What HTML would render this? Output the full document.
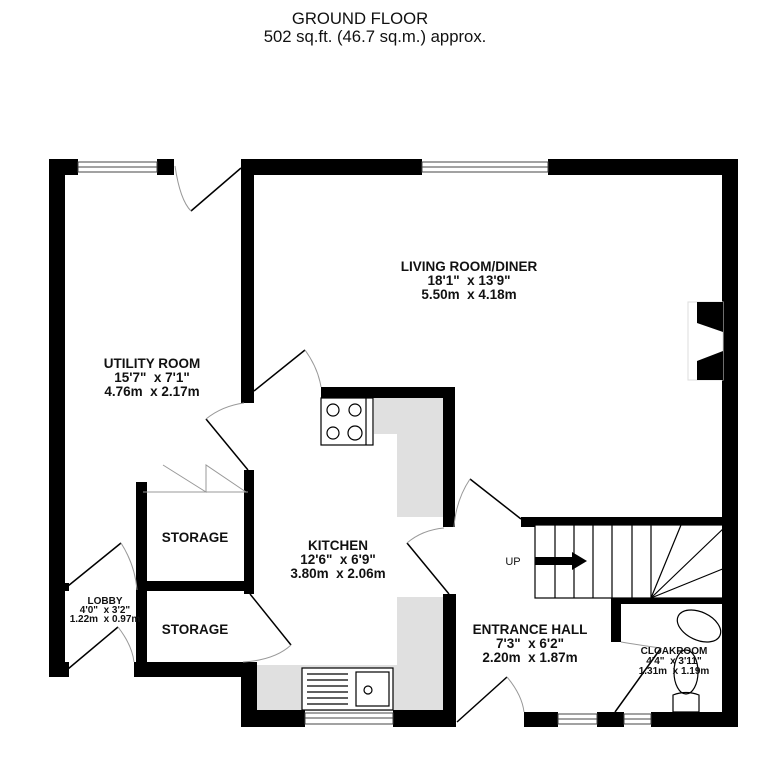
<!DOCTYPE html>
<html><head><style>body{margin:0;background:#fff}svg{display:block}text{font-family:"Liberation Sans",sans-serif;fill:#111;white-space:pre}</style></head><body>
<svg width="784" height="769" viewBox="0 0 784 769" xml:space="preserve">
<text x="360" y="24" font-size="16.7" text-anchor="middle">GROUND FLOOR</text>
<text x="375" y="42" font-size="16.7" text-anchor="middle">502 sq.ft. (46.7 sq.m.) approx.</text>
<g fill="#e0e0e0">
<polygon points="374,398 443,398 443,517 397,517 397,434 374,434"/>
<rect x="397" y="597" width="46" height="70"/>
<rect x="257" y="665" width="186" height="46"/>
</g>
<g fill="#000">
<rect x="49" y="159" width="29" height="16"/><rect x="157" y="159" width="17" height="16"/>
<rect x="49" y="159" width="16" height="518"/>
<rect x="241" y="159" width="181" height="16"/><rect x="548" y="159" width="190" height="16"/>
<rect x="241" y="159" width="13" height="244"/>
<rect x="722" y="159" width="16" height="568"/>
<rect x="321" y="387" width="134" height="11"/>
<rect x="443" y="387" width="12" height="140"/>
<rect x="443" y="594" width="13" height="133"/>
<rect x="241" y="710" width="64" height="17"/><rect x="393" y="710" width="63" height="17"/>
<rect x="241" y="662" width="16" height="65"/>
<rect x="134" y="662" width="123" height="15"/>
<rect x="136" y="482" width="11" height="190"/>
<rect x="147" y="581" width="105" height="10"/>
<rect x="244" y="470" width="10" height="124"/>
<rect x="65" y="583" width="4" height="8"/><rect x="65" y="662" width="4" height="15"/>
<rect x="521" y="517" width="217" height="8"/>
<rect x="521" y="517" width="14" height="10"/>
<rect x="612" y="598" width="113" height="6"/>
<rect x="611" y="598" width="10" height="44"/>
<rect x="524" y="712" width="34" height="15"/><rect x="597" y="712" width="27" height="15"/><rect x="651" y="712" width="87" height="15"/>
</g>
<g fill="none" stroke="#444" stroke-width="1">
<rect x="78" y="162" width="79" height="10"/><line x1="78" y1="167" x2="157" y2="167"/>
<rect x="422" y="162" width="126" height="10"/><line x1="422" y1="167" x2="548" y2="167"/>
<rect x="305" y="713" width="88" height="11"/><line x1="305" y1="718" x2="393" y2="718"/>
<rect x="558" y="714" width="39" height="10"/><line x1="558" y1="719" x2="597" y2="719"/>
<rect x="624" y="714" width="27" height="10"/><line x1="624" y1="719" x2="651" y2="719"/>
</g>
<g fill="none" stroke="#000" stroke-width="1.5">
<line x1="241" y1="168" x2="191" y2="211"/>
<line x1="254" y1="391" x2="305" y2="350"/>
<line x1="206" y1="419" x2="248" y2="470"/>
<line x1="68" y1="586" x2="121" y2="543"/>
<line x1="68" y1="669" x2="118" y2="627"/>
<line x1="250" y1="594" x2="291" y2="645"/>
<line x1="407" y1="543" x2="449" y2="594"/>
<line x1="521" y1="519" x2="470" y2="479"/>
<line x1="457" y1="722" x2="507" y2="677"/>
<line x1="615" y1="712" x2="661" y2="648"/>
</g>
<g fill="none" stroke="#999" stroke-width="1">
<path d="M175,166 Q180,200 191,211"/>
<path d="M305,350 Q318,368 321,387"/>
<path d="M206,419 Q222,406 244,403"/>
<path d="M121,543 Q135,565 137,590"/>
<path d="M118,627 Q132,645 134,662"/>
<path d="M291,645 Q275,660 243,662"/>
<path d="M407,543 Q422,530 444,528"/>
<path d="M470,479 Q456,500 454,527"/>
<path d="M507,677 Q522,695 524,712"/>
<path d="M621,642 Q645,646 661,648"/>
<polyline points="163,465 206,492 206,465 246,492"/>
<line x1="143" y1="492" x2="248" y2="492"/>
</g>
<g fill="#fff" stroke="#000" stroke-width="1.2">
<rect x="321" y="398" width="52" height="47"/>
<circle cx="333" cy="410" r="6"/><circle cx="355" cy="410" r="6"/><circle cx="333" cy="433" r="6"/><circle cx="355" cy="433" r="7"/>
<line x1="366" y1="398" x2="366" y2="445"/>
<rect x="302" y="668" width="91" height="42"/>
<rect x="356" y="672" width="33" height="34"/>
<circle cx="368" cy="690" r="4"/>
</g>
<g stroke="#000" stroke-width="1.2">
<line x1="307" y1="674" x2="348" y2="674"/><line x1="307" y1="680" x2="348" y2="680"/><line x1="307" y1="686" x2="348" y2="686"/><line x1="307" y1="692" x2="348" y2="692"/><line x1="307" y1="698" x2="348" y2="698"/><line x1="307" y1="704" x2="348" y2="704"/>
</g>
<rect x="688" y="302" width="35" height="78" fill="#fff" stroke="#ddd"/>
<polygon points="697,302 723,302 723,332 697,323" fill="#000"/>
<polygon points="697,361 723,351 723,380 697,380" fill="#000"/>
<g fill="none" stroke="#000" stroke-width="1.2">
<rect x="535" y="525" width="190" height="73"/>
<line x1="555" y1="525" x2="555" y2="598"/><line x1="574" y1="525" x2="574" y2="598"/><line x1="593" y1="525" x2="593" y2="598"/><line x1="612" y1="525" x2="612" y2="598"/><line x1="632" y1="525" x2="632" y2="598"/><line x1="651" y1="525" x2="651" y2="598"/>
<line x1="651" y1="598" x2="681" y2="525"/><line x1="651" y1="598" x2="725" y2="527"/><line x1="651" y1="598" x2="725" y2="568"/>
<ellipse cx="699" cy="626" rx="23" ry="14" transform="rotate(25 699 626)"/>
<path d="M673,712 L673,695 Q686,690 699,695 L699,712 Z"/>
<ellipse cx="686" cy="672" rx="12" ry="22"/>
</g>
<polygon points="535,557 572,557 572,552 587,561 572,570 572,565 535,565" fill="#000"/>
<g font-weight="bold" text-anchor="middle">
<text x="469" y="271" font-size="13.5">LIVING ROOM/DINER</text>
<text x="469" y="285" font-size="13.5">18'1"  x 13'9"</text>
<text x="469" y="299" font-size="13.5">5.50m  x 4.18m</text>
<text x="152" y="368" font-size="13.5">UTILITY ROOM</text>
<text x="152" y="382" font-size="13.5">15'7"  x 7'1"</text>
<text x="152" y="396" font-size="13.5">4.76m  x 2.17m</text>
<text x="195" y="542" font-size="13.5">STORAGE</text>
<text x="195" y="634" font-size="13.5">STORAGE</text>
<text x="338" y="550" font-size="13.5">KITCHEN</text>
<text x="338" y="564" font-size="13.5">12'6"  x 6'9"</text>
<text x="338" y="578" font-size="13.5">3.80m  x 2.06m</text>
<text x="105" y="604" font-size="10">LOBBY</text>
<text x="105" y="613" font-size="10">4'0"  x 3'2"</text>
<text x="105" y="622" font-size="10">1.22m  x 0.97m</text>
<text x="530" y="634" font-size="13.5">ENTRANCE HALL</text>
<text x="530" y="648" font-size="13.5">7'3"  x 6'2"</text>
<text x="530" y="662" font-size="13.5">2.20m  x 1.87m</text>
<text x="674" y="654" font-size="10">CLOAKROOM</text>
<text x="674" y="664" font-size="10">4'4"  x 3'11"</text>
<text x="674" y="674" font-size="10">1.31m  x 1.19m</text>
</g>
<text x="513" y="565" font-size="11" text-anchor="middle">UP</text>
</svg>
</body></html>
